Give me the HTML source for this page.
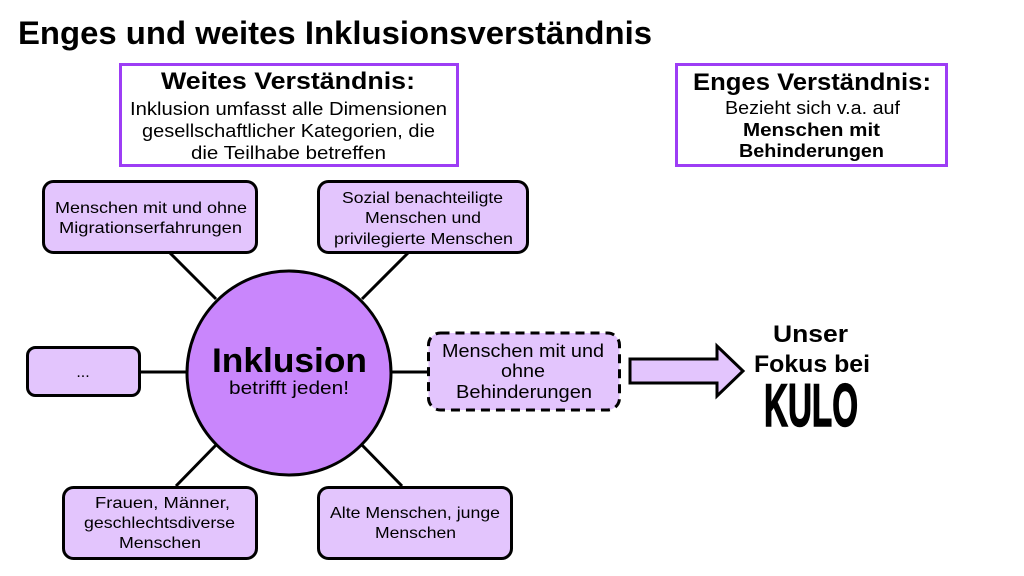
<!DOCTYPE html>
<html>
<head>
<meta charset="utf-8">
<style>
html,body{margin:0;padding:0;background:#fff;}
svg{display:block;}
text{font-family:"Liberation Sans",sans-serif;fill:#000;}
.b{font-weight:bold;}
</style>
</head>
<body>
<svg width="1024" height="576" viewBox="0 0 1024 576" xmlns="http://www.w3.org/2000/svg">
<rect x="0" y="0" width="1024" height="576" fill="#fff"/>

<!-- Title -->
<text class="b" x="18" y="44" font-size="32" textLength="634" lengthAdjust="spacingAndGlyphs">Enges und weites Inklusionsverständnis</text>

<!-- Weites box -->
<rect x="120.5" y="64.5" width="337" height="101" fill="#fff" stroke="#9d3df5" stroke-width="3"/>
<text class="b" x="161" y="89" font-size="24" textLength="254" lengthAdjust="spacingAndGlyphs">Weites Verständnis:</text>
<text x="130" y="115" font-size="18" textLength="317" lengthAdjust="spacingAndGlyphs">Inklusion umfasst alle Dimensionen</text>
<text x="142" y="137" font-size="18" textLength="293" lengthAdjust="spacingAndGlyphs">gesellschaftlicher Kategorien, die</text>
<text x="191" y="159" font-size="18" textLength="195" lengthAdjust="spacingAndGlyphs">die Teilhabe betreffen</text>

<!-- Enges box -->
<rect x="676.5" y="64.5" width="270" height="101" fill="#fff" stroke="#9d3df5" stroke-width="3"/>
<text class="b" x="693" y="90" font-size="24" textLength="238" lengthAdjust="spacingAndGlyphs">Enges Verständnis:</text>
<text x="725" y="114" font-size="18" textLength="175" lengthAdjust="spacingAndGlyphs">Bezieht sich v.a. auf</text>
<text class="b" x="743" y="136" font-size="18" textLength="137" lengthAdjust="spacingAndGlyphs">Menschen mit</text>
<text class="b" x="739" y="157" font-size="18" textLength="145" lengthAdjust="spacingAndGlyphs">Behinderungen</text>

<!-- Connectors -->
<g stroke="#000" stroke-width="3" fill="none">
<line x1="170" y1="253" x2="216" y2="299"/>
<line x1="408" y1="253" x2="362" y2="299"/>
<line x1="140" y1="372" x2="187" y2="372"/>
<line x1="391" y1="372" x2="428" y2="372"/>
<line x1="176" y1="486" x2="217" y2="444"/>
<line x1="402" y1="486" x2="361" y2="444"/>
</g>

<!-- Circle -->
<circle cx="289" cy="373" r="102" fill="#c986fc" stroke="#000" stroke-width="3"/>
<text class="b" x="212" y="372" font-size="34" textLength="155" lengthAdjust="spacingAndGlyphs">Inklusion</text>
<text x="229" y="394" font-size="18" textLength="120" lengthAdjust="spacingAndGlyphs">betrifft jeden!</text>

<!-- TL box -->
<rect x="43.5" y="181.5" width="213" height="71" rx="10" fill="#e3c5fd" stroke="#000" stroke-width="3"/>
<text x="55" y="213" font-size="16" textLength="192" lengthAdjust="spacingAndGlyphs">Menschen mit und ohne</text>
<text x="59" y="233" font-size="16" textLength="183" lengthAdjust="spacingAndGlyphs">Migrationserfahrungen</text>

<!-- TR box -->
<rect x="318.5" y="181.5" width="209" height="71" rx="10" fill="#e3c5fd" stroke="#000" stroke-width="3"/>
<text x="342" y="203" font-size="16" textLength="161" lengthAdjust="spacingAndGlyphs">Sozial benachteiligte</text>
<text x="365" y="223" font-size="16" textLength="116" lengthAdjust="spacingAndGlyphs">Menschen und</text>
<text x="334" y="244" font-size="16" textLength="179" lengthAdjust="spacingAndGlyphs">privilegierte Menschen</text>

<!-- ... box -->
<rect x="27.5" y="347.5" width="112" height="48" rx="8" fill="#e3c5fd" stroke="#000" stroke-width="3"/>
<text x="83" y="377" font-size="16" text-anchor="middle">...</text>

<!-- Dashed box -->
<rect x="428.5" y="333" width="191" height="77" rx="12" fill="#e3c5fd" stroke="#000" stroke-width="3" stroke-dasharray="9 6"/>
<text x="442" y="357" font-size="18" textLength="162" lengthAdjust="spacingAndGlyphs">Menschen mit und</text>
<text x="501" y="377" font-size="18" textLength="44" lengthAdjust="spacingAndGlyphs">ohne</text>
<text x="456" y="398" font-size="18" textLength="136" lengthAdjust="spacingAndGlyphs">Behinderungen</text>

<!-- Arrow -->
<polygon points="630,359 717,359 717,346 743,371 717,396 717,383 630,383" fill="#e3c5fd" stroke="#000" stroke-width="3" stroke-linejoin="miter"/>

<!-- Unser Fokus bei KULO -->
<text class="b" x="773" y="342" font-size="24" textLength="75" lengthAdjust="spacingAndGlyphs">Unser</text>
<text class="b" x="754" y="372" font-size="24" textLength="116" lengthAdjust="spacingAndGlyphs">Fokus bei</text>
<text class="b" x="764" y="426" font-size="60" stroke="#000" stroke-width="1.5" textLength="94" lengthAdjust="spacingAndGlyphs">KULO</text>

<!-- BL box -->
<rect x="63.5" y="487.5" width="193" height="71" rx="10" fill="#e3c5fd" stroke="#000" stroke-width="3"/>
<text x="95" y="508" font-size="16" textLength="135" lengthAdjust="spacingAndGlyphs">Frauen, Männer,</text>
<text x="84" y="528" font-size="16" textLength="151" lengthAdjust="spacingAndGlyphs">geschlechtsdiverse</text>
<text x="119" y="548" font-size="16" textLength="82" lengthAdjust="spacingAndGlyphs">Menschen</text>

<!-- BR box -->
<rect x="318.5" y="487.5" width="193" height="71" rx="10" fill="#e3c5fd" stroke="#000" stroke-width="3"/>
<text x="330" y="518" font-size="16" textLength="170" lengthAdjust="spacingAndGlyphs">Alte Menschen, junge</text>
<text x="375" y="538" font-size="16" textLength="81" lengthAdjust="spacingAndGlyphs">Menschen</text>
</svg>
</body>
</html>
